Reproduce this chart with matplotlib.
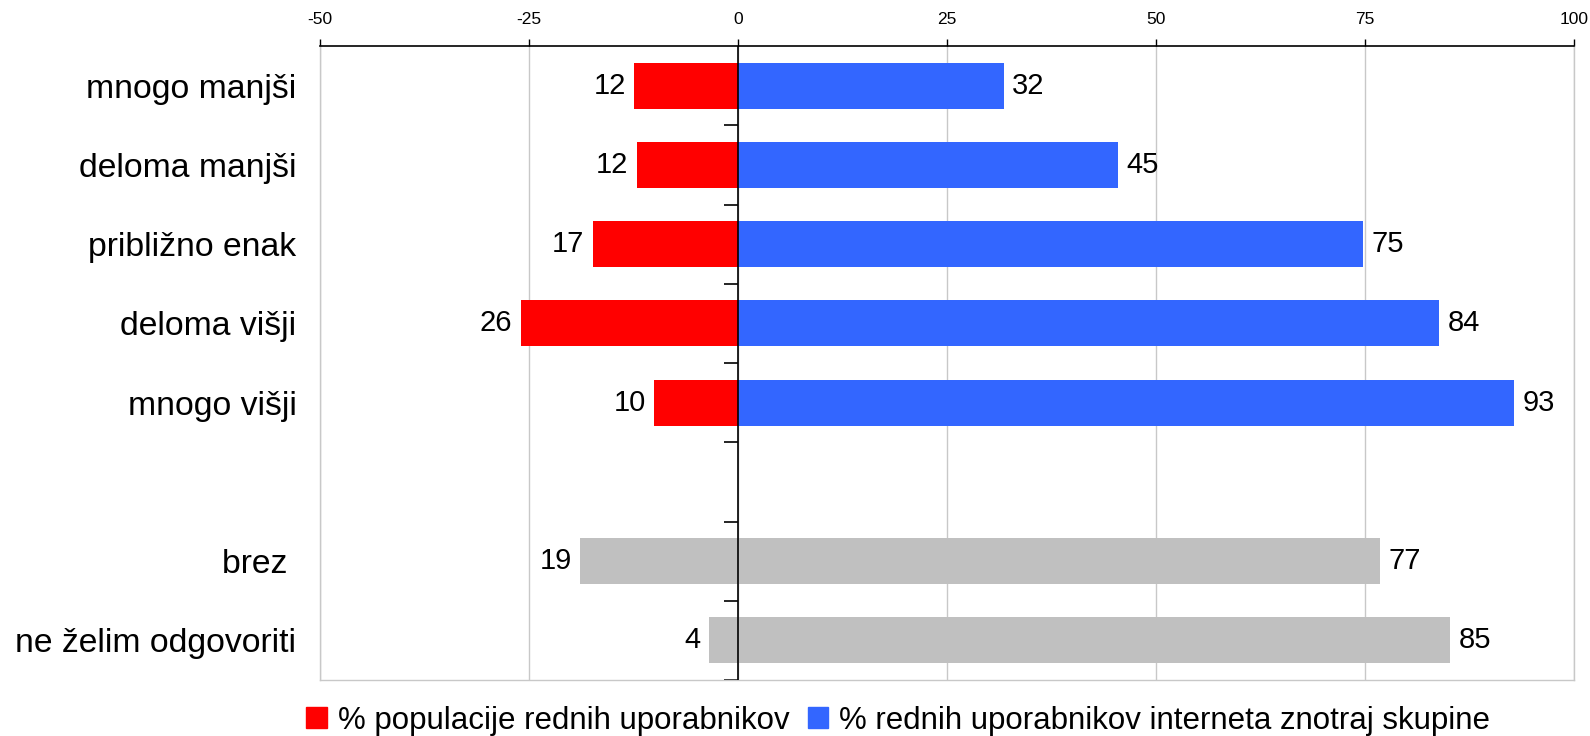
import matplotlib.pyplot as plt
import numpy as np

plt.rcParams['font.family'] = ['Liberation Sans', 'DejaVu Sans']

categories = ['mnogo manjši', 'deloma manjši', 'približno enak', 'deloma višji',
              'mnogo višji', '', 'brez ', 'ne želim odgovoriti']
# share of population (drawn to the left) and share of internet users (right)
population = [12.4, 12.1, 17.4, 26.0, 10.0, None, 18.9, 3.5]
users = [31.8, 45.4, 74.8, 83.9, 92.8, None, 76.8, 85.2]
pop_labels = ['12', '12', '17', '26', '10', '', '19', '4']
user_labels = ['32', '45', '75', '84', '93', '', '77', '85']
gray_rows = [6, 7]

x_ticks = [-50, -25, 0, 25, 50, 75, 100]

RED = '#ff0000'
BLUE = '#3366ff'
GRAY = '#c0c0c0'

fig = plt.figure(figsize=(15.9, 7.36), dpi=100)
ax = fig.add_axes([320 / 1590, 1 - 680 / 736, 1254 / 1590, 634 / 736])

y = np.arange(len(categories))
h = 0.58
for i in y:
    if population[i] is None:
        continue
    lc = GRAY if i in gray_rows else RED
    rc = GRAY if i in gray_rows else BLUE
    ax.barh(i, -population[i], height=h, color=lc, zorder=2)
    ax.barh(i, users[i], height=h, color=rc, zorder=2)
    ax.text(-population[i] - 1.0, i, pop_labels[i], ha='right', va='center', fontsize=21)
    ax.text(users[i] + 1.0, i, user_labels[i], ha='left', va='center', fontsize=21)

ax.axvline(0, color='black', linewidth=1.2, zorder=3)

ax.set_xlim(-50, 100)
ax.set_ylim(len(categories) - 0.5, -0.5)

ax.xaxis.tick_top()
ax.set_xticks(x_ticks)
ax.set_xticklabels([str(t) for t in x_ticks], fontsize=12.5)
ax.tick_params(axis='x', direction='out', length=5, width=1, pad=9, color='black')
ax.grid(axis='x', color='#c8c8c8', linewidth=1, zorder=0)

ax.set_yticks(y)
ax.set_yticklabels(categories, fontsize=24.3)
ax.tick_params(axis='y', length=0, pad=17)

ax.spines['top'].set_color('black')
ax.spines['top'].set_linewidth(1.2)
for s in ['left', 'bottom', 'right']:
    ax.spines[s].set_color('#c8c8c8')
    ax.spines[s].set_linewidth(1)

# slot separator ticks on the zero axis
zero = ax.secondary_yaxis(1 / 3)
zero.set_yticks(np.arange(0.5, len(categories), 1.0))
zero.set_yticklabels([])
zero.tick_params(axis='y', direction='out', length=10, width=1.2, color='black')
zero.spines['left'].set_visible(False)

handles = [plt.Rectangle((0, 0), 1, 1, color=RED), plt.Rectangle((0, 0), 1, 1, color=BLUE)]
fig.legend(handles, ['% populacije rednih uporabnikov',
                     '% rednih uporabnikov interneta znotraj skupine'],
           loc='center', bbox_to_anchor=(0.565, 0.021), ncol=2, frameon=False,
           fontsize=22.5, handlelength=0.65, handleheight=0.65, handletextpad=0.35,
           columnspacing=0.6, borderpad=0)

fig.savefig('out.png', dpi=100)
